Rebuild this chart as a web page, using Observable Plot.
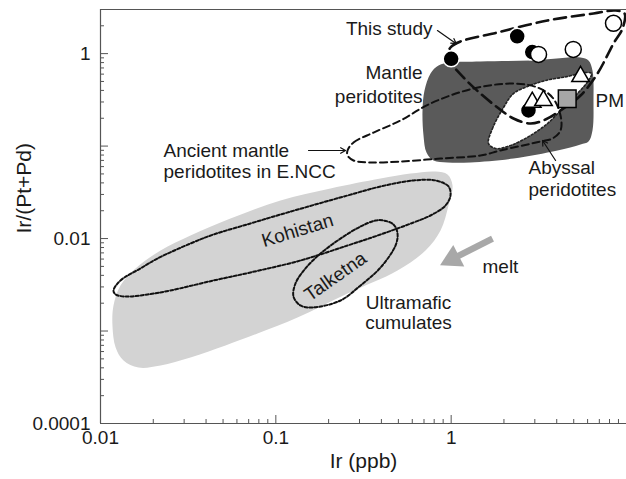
<!DOCTYPE html>
<html><head><meta charset="utf-8">
<script src="https://cdn.jsdelivr.net/npm/d3@7"></script>
<script src="https://cdn.jsdelivr.net/npm/@observablehq/plot@0.6"></script>
<style>body{margin:0;background:#fff}svg{display:block}</style>
</head><body><div id="chart"></div>
<script>
// ---- field outlines: [Ir (ppb), Ir/(Pt+Pd)] ----
const ultramaficCumulates = [[0.01186,0.00189],[0.0117,0.001148],[0.0122,0.000664],[0.01353,0.00048],[0.01647,0.000403],[0.022,0.000424],[0.0326,0.000517],[0.05164,0.000698],[0.0786,0.00094],[0.1329,0.0014],[0.2564,0.00255],[0.4943,0.00451],[0.714,0.00743],[0.8696,0.01222],[0.9656,0.0228],[1.018,0.0375],[0.953,0.0493],[0.814,0.0531],[0.5861,0.0505],[0.3954,0.0446],[0.205,0.0348],[0.1063,0.0258],[0.0551,0.01648],[0.0326,0.01079],[0.022,0.00743],[0.01584,0.00475],[0.013,0.00311]];
const kohistan = [[0.01186,0.002744],[0.013,0.00352],[0.0169,0.00475],[0.02114,0.00609],[0.0326,0.00884],[0.0441,0.01106],[0.0717,0.01456],[0.1063,0.0182],[0.2564,0.02923],[0.3954,0.03656],[0.6097,0.0425],[0.814,0.0425],[0.9656,0.03656],[0.9912,0.02923],[0.929,0.0228],[0.7626,0.01776],[0.6097,0.01492],[0.3954,0.01106],[0.2564,0.00841],[0.1382,0.00579],[0.0717,0.0043],[0.0441,0.00352],[0.02506,0.002744],[0.01854,0.002483],[0.01388,0.002362],[0.0122,0.002483]];
const talketna = [[0.4113,0.01568],[0.4688,0.0142],[0.4943,0.01134],[0.4815,0.00841],[0.3954,0.00486],[0.3041,0.00311],[0.2338,0.00214],[0.164,0.0018],[0.1382,0.00189],[0.1261,0.002362],[0.1294,0.003266],[0.1476,0.00475],[0.1798,0.00689],[0.2338,0.01],[0.3041,0.0135],[0.3703,0.01568]];
const mantlePeridotites = [[0.847,0.744],[0.9912,0.802],[1.469,0.822],[2.835,0.843],[5.467,0.908],[6.07,0.843],[6.397,0.657],[6.483,0.311],[6.397,0.1475],[6.07,0.1121],[5.467,0.104],[4.042,0.0896],[2.267,0.0734],[1.288,0.0665],[0.953,0.0665],[0.793,0.0699],[0.7234,0.0852],[0.6953,0.1302],[0.6864,0.243],[0.7046,0.399],[0.7626,0.61]];
const abyssalPeridotites = [[1.633,0.1067],[1.721,0.155],[1.989,0.2614],[2.267,0.37],[2.725,0.441],[3.452,0.512],[4.61,0.566],[5.834,0.625],[6.316,0.61],[6.07,0.512],[5.119,0.352],[4.204,0.243],[3.544,0.1755],[2.835,0.1302],[2.18,0.1015],[1.79,0.0942]];
const ancientENCC = [[0.2564,0.0896],[0.2773,0.1094],[0.3606,0.14],[0.514,0.189],[0.7626,0.289],[1.341,0.4196],[2.267,0.475],[3.108,0.43],[3.784,0.335],[4.204,0.2143],[4.204,0.1475],[3.784,0.1208],[3.232,0.1121],[1.911,0.0896],[1.469,0.0791],[0.8696,0.0734],[0.514,0.0681],[0.3467,0.0665],[0.2773,0.0699],[0.2564,0.0791]];
const thisStudyField = [[0.953,0.954],[0.9912,1.165],[1.13,1.352],[1.838,1.692],[3.544,2.281],[6.483,2.716],[8.656,2.926],[9.741,2.716],[9.49,1.87],[8.43,1.287],[6.833,0.61],[5.467,0.352],[4.204,0.243],[3.452,0.194],[2.835,0.1755],[2.267,0.199],[1.838,0.2614],[1.469,0.37],[1.176,0.552],[0.9912,0.802]];

// ---- samples ----
const blackIr = [1.00, 2.38, 2.90, 2.76];
const blackRatio = [0.88, 1.54, 1.04, 0.243];
const openIr = [3.15, 4.97, 8.43];
const openRatio = [0.98, 1.11, 2.13];
const triangleIr = [5.47, 2.90, 3.36];
const triangleRatio = [0.566, 0.298, 0.311];
const pmIr = [4.59];
const pmRatio = [0.325];

// ---- ticks ----
const xLabelTicks = [0.01, 0.1, 1];
const xMajorTicks = [0.01, 0.1, 1];
const xMinorTicks = [0.02,0.03,0.04,0.05,0.06,0.07,0.08,0.09,0.2,0.3,0.4,0.5,0.6,0.7,0.8,0.9,2,3,4,5,6,7,8,9];
const yLabelTicks = [0.0001, 0.01, 1];
const yMajorTicks = [0.0001, 0.001, 0.01, 0.1, 1];
const yMinorTicks = [0.0002,0.0003,0.0004,0.0005,0.0006,0.0007,0.0008,0.0009,0.002,0.003,0.004,0.005,0.006,0.007,0.008,0.009,0.02,0.03,0.04,0.05,0.06,0.07,0.08,0.09,0.2,0.3,0.4,0.5,0.6,0.7,0.8,0.9,2,3];

// ---- annotations ----
const labelsEnd = [{t:"This study", x:0.7826, y:1.87},{t:"Mantle", x:0.6864, y:0.625},{t:"peridotites", x:0.6864, y:0.344}];
const labelsStart = [{t:"Ancient mantle", x:0.02287, y:0.0896},{t:"peridotites in E.NCC", x:0.02287, y:0.0531},{t:"Abyssal", x:2.761, y:0.0587},{t:"peridotites", x:2.761, y:0.0339},{t:"PM", x:6.656, y:0.311},{t:"melt", x:1.509, y:0.00499}];
const labelsMiddle = [{t:"Ultramafic", x:0.571, y:0.002035},{t:"cumulates", x:0.571, y:0.00121}];
const rotatedLabels = [{t:"Kohistan", x:0.1329, y:0.01222, r:-17},{t:"Talketna", x:0.2189, y:0.00389, r:-35}];
const pointerArrows = [{x1:0.835,y1:1.778,x2:1.07,y2:1.28},{x1:0.1536,y1:0.0896,x2:0.2497,y2:0.0896},{x1:3.94,y1:0.0699,x2:3.32,y2:0.115}];
const meltShaft = [{x1:1.721,y1:0.0100,x2:1.018,y2:0.00603}];
const meltHead = [{x:1.018, y:0.00603}];

const P = d => d[0], Q = d => d[1];
const font = "'Liberation Sans', Arial, Helvetica, sans-serif";

const chart = Plot.plot({
  width: 626, height: 479,
  marginLeft: 100, marginRight: 0, marginTop: 9, marginBottom: 56,
  x: {type: "log", domain: [0.01, 10]},
  y: {type: "log", domain: [0.0001, 3]},
  style: {fontFamily: font, fontSize: "19px", color: "#1a1a1a", background: "#fff"},
  marks: [
    Plot.line(ultramaficCumulates, {x: P, y: Q, curve: "catmull-rom-closed", fill: "#d3d3d3", stroke: "none"}),
    Plot.line(kohistan, {x: P, y: Q, curve: "catmull-rom-closed", stroke: "#111", strokeWidth: 2, strokeDasharray: "3,2"}),
    Plot.line(talketna, {x: P, y: Q, curve: "catmull-rom-closed", stroke: "#111", strokeWidth: 2, strokeDasharray: "3,2"}),
    Plot.line(mantlePeridotites, {x: P, y: Q, curve: "catmull-rom-closed", fill: "#5a5a5a", stroke: "none"}),
    Plot.line(abyssalPeridotites, {x: P, y: Q, curve: "catmull-rom-closed", fill: "#fff", stroke: "#222", strokeWidth: 1.6, strokeDasharray: "2,2"}),
    Plot.line(ancientENCC, {x: P, y: Q, curve: "catmull-rom-closed", stroke: "#111", strokeWidth: 2, strokeDasharray: "7,4"}),
    Plot.line(thisStudyField, {x: P, y: Q, curve: "catmull-rom-closed", stroke: "#111", strokeWidth: 2.6, strokeDasharray: "12,6"}),
    // axes
    Plot.ruleX([0.01], {stroke: "#555", strokeWidth: 1.2}),
    Plot.ruleY([0.0001], {stroke: "#555", strokeWidth: 1.2}),
    Plot.ruleY([3], {stroke: "#555", strokeWidth: 1.2}),
    Plot.axisX({ticks: xMinorTicks, tickSize: -4, tickFormat: () => "", label: null, stroke: "#555"}),
    Plot.axisX({ticks: xMajorTicks, tickSize: -8, tickFormat: () => "", label: null, stroke: "#555"}),
    Plot.axisX({ticks: xLabelTicks, tickSize: 0, tickPadding: 7, tickFormat: d => String(d), label: null, fontSize: 19}),
    Plot.axisY({ticks: yMinorTicks, tickSize: -4, tickFormat: () => "", label: null, stroke: "#555"}),
    Plot.axisY({ticks: yMajorTicks, tickSize: -8, tickFormat: () => "", label: null, stroke: "#555"}),
    Plot.axisY({ticks: yLabelTicks, tickSize: 0, tickPadding: 10, tickFormat: d => String(d), label: null, fontSize: 19}),
    Plot.text(["Ir (ppb)"], {frameAnchor: "bottom", dy: 44, fontSize: 21}),
    Plot.text(["Ir/(Pt+Pd)"], {frameAnchor: "left", dx: -76, dy: 17, rotate: -90, fontSize: 21}),
    // arrows
    Plot.link(meltShaft, {x1: "x1", y1: "y1", x2: "x2", y2: "y2", stroke: "#a8a8a8", strokeWidth: 6.5}),
    Plot.dot(meltHead, {x: "x", y: "y", symbol: "triangle", r: 9, rotate: -117, fill: "#a8a8a8", stroke: "none"}),
    Plot.arrow(pointerArrows, {x1: "x1", y1: "y1", x2: "x2", y2: "y2", stroke: "#111", strokeWidth: 1.2, headLength: 7}),
    // samples
    Plot.dot(blackIr.map((v, i) => [v, blackRatio[i]]), {x: P, y: Q, r: 8, fill: "#000", stroke: "#fff", strokeWidth: 1.5}),
    Plot.dot(openIr.map((v, i) => [v, openRatio[i]]), {x: P, y: Q, r: 8, fill: "#fff", stroke: "#000", strokeWidth: 1.5}),
    Plot.dot(triangleIr.map((v, i) => [v, triangleRatio[i]]), {x: P, y: Q, r: 6.5, symbol: "triangle", fill: "#fff", stroke: "#000", strokeWidth: 1.5}),
    Plot.dot(pmIr.map((v, i) => [v, pmRatio[i]]), {x: P, y: Q, r: 10, symbol: "square", fill: "#a6a6a6", stroke: "#000", strokeWidth: 1.5}),
    // labels
    Plot.text(labelsEnd, {x: "x", y: "y", text: "t", textAnchor: "end"}),
    Plot.text(labelsStart, {x: "x", y: "y", text: "t", textAnchor: "start"}),
    Plot.text(labelsMiddle, {x: "x", y: "y", text: "t"}),
    Plot.text(rotatedLabels, {x: "x", y: "y", text: "t", rotate: d => d.r})
  ]
});
document.getElementById("chart").append(chart);
</script></body></html>
